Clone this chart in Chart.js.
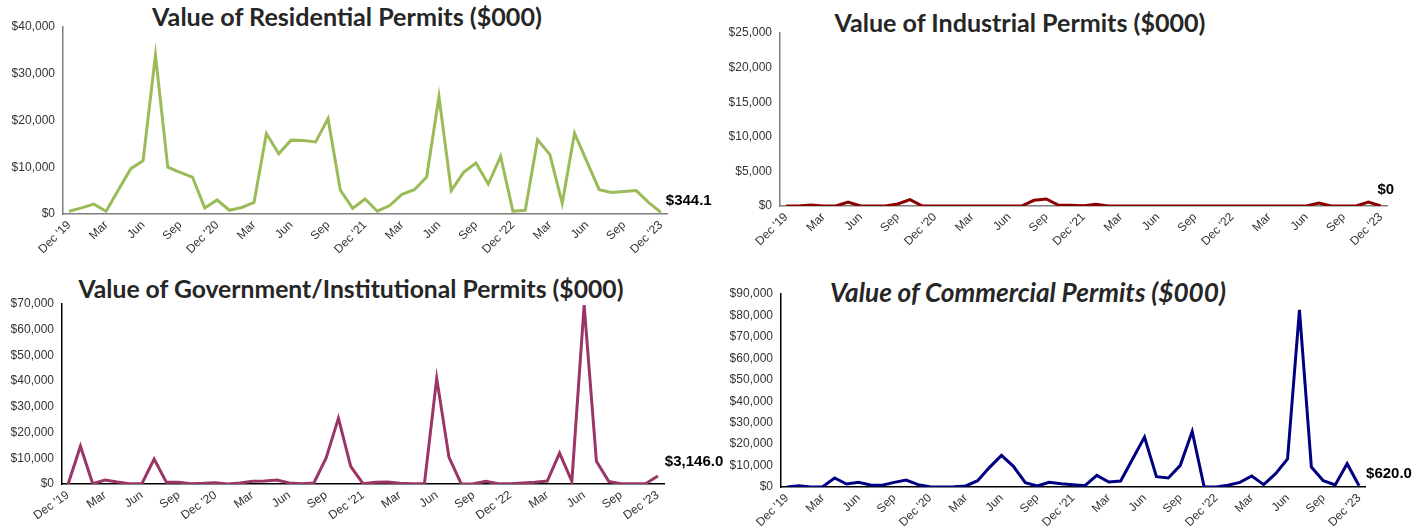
<!DOCTYPE html>
<html>
<head>
<meta charset="utf-8">
<script src="https://cdn.jsdelivr.net/npm/chart.js@4.4.1/dist/chart.umd.min.js"></script>
<style>
  body { margin: 0; background: #fff; }
  #lienzo { position: relative; width: 1426px; height: 528px; overflow: hidden; background: #fff; }
  .panel { position: absolute; }
  .titulo {
    position: absolute; white-space: nowrap; transform: translate(-50%, -50%);
    font-family: Lato, "Open Sans", sans-serif; font-weight: bold; color: #262626;
  }
</style>
</head>
<body>
<div id="lienzo">
  <div class="titulo" id="t1" style="left:347px; top:16px;">Value of Residential Permits ($000)</div>
  <div class="titulo" id="t2" style="left:1020px; top:22px;">Value of Industrial Permits ($000)</div>
  <div class="titulo" id="t3" style="left:351px; top:288px;">Value of Government/Institutional Permits ($000)</div>
  <div class="titulo" id="t4" style="left:1028px; top:292px; font-style:italic;">Value of Commercial Permits ($000)</div>
  <canvas class="panel" id="g2" width="713" height="264" style="left:713px; top:0;"></canvas>
  <canvas class="panel" id="g4" width="713" height="264" style="left:713px; top:264px;"></canvas>
  <canvas class="panel" id="g1" width="760" height="264" style="left:0; top:0;"></canvas>
  <canvas class="panel" id="g3" width="760" height="264" style="left:0; top:264px;"></canvas>
</div>
<script>
// Meses (Dic 2019 - Dic 2023), solo se muestra uno de cada tres
const meses = ["Dec '19", "Jan", "Feb", "Mar", "Apr", "May", "Jun", "Jul", "Aug", "Sep", "Oct", "Nov",
  "Dec '20", "Jan", "Feb", "Mar", "Apr", "May", "Jun", "Jul", "Aug", "Sep", "Oct", "Nov",
  "Dec '21", "Jan", "Feb", "Mar", "Apr", "May", "Jun", "Jul", "Aug", "Sep", "Oct", "Nov",
  "Dec '22", "Jan", "Feb", "Mar", "Apr", "May", "Jun", "Jul", "Aug", "Sep", "Oct", "Nov",
  "Dec '23"];

// Valores en miles de dólares
const residencial = [600, 1300, 2100, 600, 5200, 9700, 11400, 34000, 10000, 8900, 7900, 1300,
  3000, 800, 1400, 2500, 17200, 12900, 15800, 15700, 15400, 20400, 5100, 1200,
  3200, 600, 1800, 4200, 5200, 7900, 25100, 5000, 8900, 10900, 6400, 12300,
  600, 800, 15900, 12700, 2300, 17300, 11200, 5200, 4600, 4800, 5000, 2500,
  344.1];
const industrial = [0, 0, 150, 0, 0, 580, 0, 0, 0, 290, 920, 0,
  0, 0, 0, 0, 0, 0, 0, 0, 820, 1010, 100, 100,
  50, 240, 0, 0, 0, 0, 0, 0, 0, 0, 0, 0,
  0, 0, 0, 0, 0, 0, 0, 430, 0, 0, 0, 580,
  0];
const gobierno = [0, 14700, 100, 1550, 780, 130, 130, 9700, 650, 650, 130, 260,
  520, 0, 390, 1030, 1160, 1550, 390, 130, 390, 10100, 25600, 6860,
  130, 650, 780, 260, 130, 130, 41100, 10350, 0, 130, 1030, 130,
  130, 390, 650, 1160, 12030, 1030, 69600, 8800, 1030, 130, 130, 130,
  3146];
const comercial = [0, 620, 0, 150, 4190, 1400, 2170, 930, 780, 2170, 3260, 1090,
  150, 0, 150, 470, 2950, 9160, 14740, 9620, 2020, 470, 2170, 1550,
  1090, 620, 5430, 2330, 2790, 13040, 23280, 4810, 4190, 10090, 25900, 150,
  0, 780, 2170, 5120, 1090, 6210, 13040, 82560, 9310, 2950, 930, 10860,
  620];

// Etiquetas del último valor
const etiquetasFinales = ['$344.1', '$0', '$3,146.0', '$620.0'];

// Plugin para escribir el último valor junto al final de la línea
const etiquetaFinal = {
  id: 'etiquetaFinal',
  afterDatasetsDraw(chart, args, opts) {
    const meta = chart.getDatasetMeta(0);
    const p = meta.data[meta.data.length - 1];
    const ctx = chart.ctx;
    ctx.save();
    ctx.font = 'bold 15px "Liberation Sans", Arial, sans-serif';
    ctx.fillStyle = '#000';
    ctx.textAlign = opts.align;
    ctx.textBaseline = 'middle';
    ctx.fillText(opts.texto, p.x + opts.dx, p.y + opts.dy);
    ctx.restore();
  }
};

function crearGrafico(id, valores, cfg) {
  const ctx = document.getElementById(id).getContext('2d');
  return new Chart(ctx, {
    type: 'line',
    data: {
      labels: meses,
      datasets: [{
        data: valores,
        borderColor: cfg.color,
        borderWidth: 3,
        pointRadius: 0,
        tension: 0,
        fill: false
      }]
    },
    options: {
      responsive: false,
      animation: false,
      layout: { padding: { top: cfg.arriba, right: cfg.derecha, bottom: 0, left: 0 } },
      plugins: {
        legend: { display: false },
        tooltip: { enabled: false },
        etiquetaFinal: cfg.etiqueta
      },
      scales: {
        x: {
          offset: true,
          grid: { display: false, drawTicks: false },
          border: { display: true, color: cfg.eje, width: 1.5 },
          ticks: {
            autoSkip: false,
            maxRotation: cfg.giro,
            minRotation: cfg.giro,
            padding: 4,
            color: '#333',
            font: { family: '"Liberation Sans", Arial, sans-serif', size: 12 },
            callback: function (v, i) { return i % 3 === 0 ? meses[i] : ''; }
          },
          afterFit: (s) => { s.height = cfg.altoX; }
        },
        y: {
          min: 0,
          max: cfg.max,
          grid: { display: false, drawTicks: false },
          border: { display: true, color: cfg.eje, width: 1.5 },
          ticks: {
            stepSize: cfg.paso,
            padding: 8,
            color: '#333',
            font: { family: '"Liberation Sans", Arial, sans-serif', size: 12 },
            callback: (v) => '$' + v.toLocaleString('en-US')
          },
          afterFit: (s) => { s.width = cfg.anchoY; }
        }
      }
    },
    plugins: [etiquetaFinal]
  });
}

// Ajusta el tamaño de letra del título al ancho del original
function ajustarTitulo(id, ancho) {
  const el = document.getElementById(id);
  el.style.fontSize = '100px';
  const w = el.getBoundingClientRect().width;
  el.style.fontSize = (100 * ancho / w).toFixed(2) + 'px';
}

function crearGraficos() {
  ajustarTitulo('t1', 390);
  ajustarTitulo('t2', 371);
  ajustarTitulo('t3', 545);
  ajustarTitulo('t4', 396);

  crearGrafico('g1', residencial, {
    color: '#9BBB59', eje: '#7f7f7f', max: 40000, paso: 10000, giro: 45,
    arriba: 27, derecha: 93, anchoY: 63, altoX: 50,
    etiqueta: { texto: etiquetasFinales[0], dx: 5, dy: -12, align: 'left' }
  });
  crearGrafico('g2', industrial, {
    color: '#8B0000', eje: '#7f7f7f', max: 25000, paso: 5000, giro: 45,
    arriba: 33, derecha: 39, anchoY: 67, altoX: 58,
    etiqueta: { texto: etiquetasFinales[1], dx: 5, dy: -16, align: 'center' }
  });
  crearGrafico('g3', gobierno, {
    color: '#9B3467', eje: '#000', max: 70000, paso: 10000, giro: 35,
    arriba: 40, derecha: 96, anchoY: 62, altoX: 44,
    etiqueta: { texto: etiquetasFinales[2], dx: 7, dy: -14, align: 'left' }
  });
  crearGrafico('g4', comercial, {
    color: '#000080', eje: '#000', max: 90000, paso: 10000, giro: 45,
    arriba: 30, derecha: 61, anchoY: 68, altoX: 41,
    etiqueta: { texto: etiquetasFinales[3], dx: 7, dy: -12, align: 'left' }
  });
}

document.addEventListener('DOMContentLoaded', function () {
  crearGraficos();
});
</script>
</body>
</html>
